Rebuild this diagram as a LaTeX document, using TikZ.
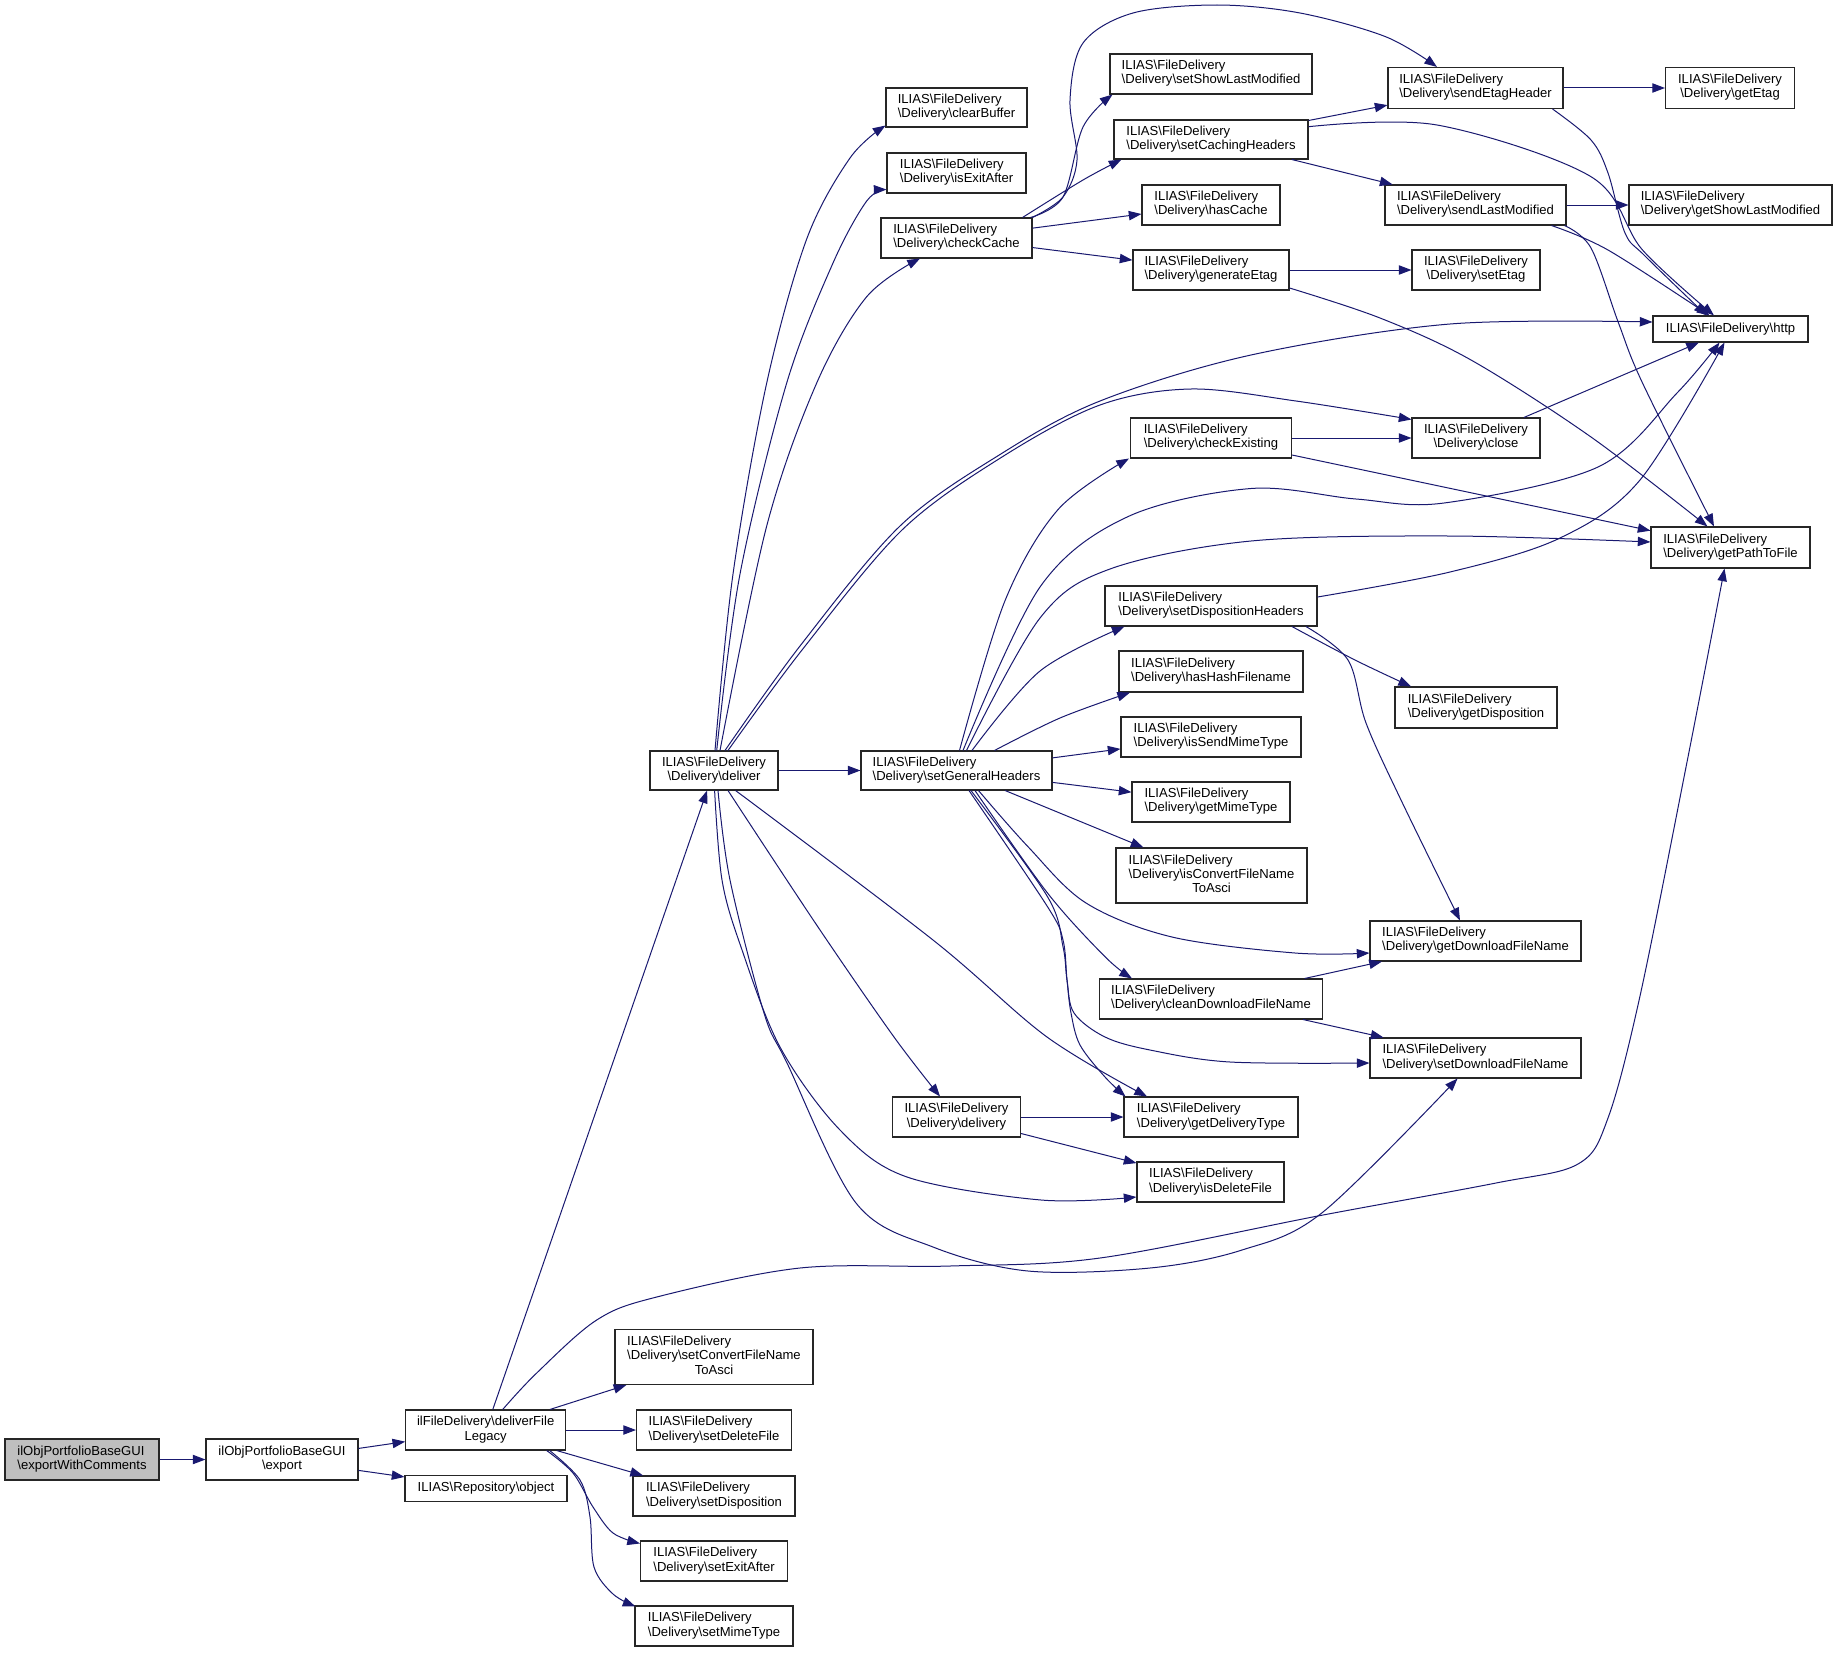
\documentclass[tikz,border=0pt]{standalone}
\usepackage{fontspec}
\setmainfont{Liberation Sans}
\usetikzlibrary{arrows.meta,calc}
\definecolor{edgec}{HTML}{191970}
\definecolor{rootfill}{HTML}{BFBFBF}
\newcommand\bs{\textbackslash}
\newcommand\lblB[2]{\begin{tabular}{@{}l@{}}#1\\\multicolumn{1}{@{}c@{}}{#2}\end{tabular}}
\newcommand\lblC[3]{\begin{tabular}{@{}l@{}}#1\\#2\\\multicolumn{1}{@{}c@{}}{#3}\end{tabular}}
\newcommand\fd[1]{\lblB{ILIAS\bs FileDelivery}{\bs Delivery\bs #1}}
\newcommand\mknode[7][]{\node[box,#1,minimum width=#5*0.75pt,minimum height=#6*0.75pt] (#2) at (#3,#4) {#7};}
\tikzset{
  box/.style={draw=black!85, line width=0.8pt, fill=white, inner sep=0pt,
    font=\fontsize{9.8pt}{10.7pt}\selectfont},
  e/.style={draw=edgec, line width=0.75pt, -{Triangle[length=9.5pt,width=7pt]}},
  sm/.style={smooth, tension=0.55}
}
\begin{document}
\begin{tikzpicture}[x=0.75pt,y=-0.75pt]
\fill[white] (0,0) rectangle (1837,1652);
\useasboundingbox (0,0) rectangle (1837,1652);
% nodes
\mknode[fill=rootfill]{ewc}{82}{1459.5}{154}{41}{\lblB{ilObjPortfolioBaseGUI}{\bs exportWithComments}}
\mknode{exp}{282}{1459.5}{152}{41}{\lblB{ilObjPortfolioBaseGUI}{\bs export}}
\mknode{dfl}{485.7}{1430}{160}{40}{\lblB{ilFileDelivery\bs deliverFile}{Legacy}}
\mknode{obj}{486}{1488.5}{162}{26}{ILIAS\bs Repository\bs object}
\mknode{scf}{714}{1357}{198}{55}{\lblC{ILIAS\bs FileDelivery}{\bs Delivery\bs setConvertFileName}{ToAsci}}
\mknode{sdf}{714}{1430}{155}{40}{\fd{setDeleteFile}}
\mknode{sdi}{714}{1496}{162}{40}{\fd{setDisposition}}
\mknode{sea}{714}{1561}{147}{40}{\fd{setExitAfter}}
\mknode{smt}{714}{1626}{158}{40}{\fd{setMimeType}}
\mknode{dlv}{714}{770.5}{128}{39}{\fd{deliver}}
\mknode{sgh}{956.5}{770.5}{191}{39}{\fd{setGeneralHeaders}}
\mknode{cb}{956.5}{107.5}{141}{39}{\fd{clearBuffer}}
\mknode{iea}{956.5}{173}{139}{40}{\fd{isExitAfter}}
\mknode{cc}{956.5}{238}{151}{40}{\fd{checkCache}}
\mknode{dly}{956.5}{1117}{128}{40}{\fd{delivery}}
\mknode{sslm}{1211}{74}{202}{40}{\fd{setShowLastModified}}
\mknode{sch}{1211}{139.5}{194}{39}{\fd{setCachingHeaders}}
\mknode{hc}{1211}{205}{138}{40}{\fd{hasCache}}
\mknode{ge}{1211}{270}{156}{40}{\fd{generateEtag}}
\mknode{ce}{1211}{438}{161}{40}{\fd{checkExisting}}
\mknode{sdh}{1211}{606}{212}{40}{\fd{setDispositionHeaders}}
\mknode{hhf}{1211}{671.5}{184}{41}{\fd{hasHashFilename}}
\mknode{ismt}{1211}{737}{180}{40}{\fd{isSendMimeType}}
\mknode{gmt}{1211}{802}{158}{40}{\fd{getMimeType}}
\mknode{icf}{1211.5}{875.5}{191}{55}{\lblC{ILIAS\bs FileDelivery}{\bs Delivery\bs isConvertFileName}{ToAsci}}
\mknode{cdfn}{1211}{999}{223}{40}{\fd{cleanDownloadFileName}}
\mknode{gdt}{1211}{1117}{174}{40}{\fd{getDeliveryType}}
\mknode{idf}{1210.5}{1182}{147}{40}{\fd{isDeleteFile}}
\mknode{seh}{1475.5}{88}{175}{41}{\fd{sendEtagHeader}}
\mknode{slm}{1475.5}{205}{181}{40}{\fd{sendLastModified}}
\mknode{setag}{1476}{270}{128}{40}{\fd{setEtag}}
\mknode{close}{1476}{438}{128}{40}{\fd{close}}
\mknode{gdisp}{1476}{707.5}{162}{41}{\fd{getDisposition}}
\mknode{gdfn}{1475.5}{941}{211}{40}{\fd{getDownloadFileName}}
\mknode{sdfn}{1475.5}{1058}{211}{40}{\fd{setDownloadFileName}}
\mknode{getag}{1730}{88}{129}{41}{\fd{getEtag}}
\mknode{gslm}{1730.5}{205}{203}{40}{\fd{getShowLastModified}}
\mknode{http}{1730.5}{329}{155}{26}{ILIAS\bs FileDelivery\bs http}
\mknode{gptf}{1730.5}{547.5}{159}{41}{\fd{getPathToFile}}
% edges: left part
\draw[e] (ewc) -- (exp);
\draw[e] (exp) -- (dfl);
\draw[e] (exp) -- (obj);
\draw[e] (dfl) -- (dlv);
\draw[e] (dfl) -- (scf);
\draw[e] (dfl) -- (sdf);
\draw[e] (dfl) -- (sdi);
\draw[e] plot[sm] coordinates {($(dfl.south)+(61,0)$) (573,1473) (593,1507) (613,1533) ($(sea.north west)+(0,3)$)};
\draw[e] plot[sm] coordinates {($(dfl.south)+(64,0)$) (580,1480) (590,1517) (594,1567) (613,1594) ($(smt.north west)+(1,1)$)};
\draw[e] plot[sm] coordinates {($(dfl.north)+(17,0)$) (536.7,1373) (596.7,1320) (656.7,1297) (800,1268) (950,1266) (1100,1258) (1323,1215) (1496,1183) (1578,1164) (1608,1118) (1640,996) (1687,762) ($(gptf.south)+(-6,0)$)};
% deliver
\draw[e] (dlv) -- (sgh);
\draw[e] plot[sm] coordinates {($(dlv.north)+(1,0)$) (733,574) (766.7,383) (806.7,239) (850,158) ($(cb.south west)+(0,-2)$)};
\draw[e] plot[sm] coordinates {($(dlv.north)+(2.7,0)$) (740,574) (786.7,383) (833,263) (866.7,201) ($(iea.south west)+(0,-4)$)};
\draw[e] plot[sm] coordinates {($(dlv.north)+(6,0)$) (766.7,526) (816.7,383) (866.7,296.7) ($(cc.south)+(-36.5,0)$)};
\draw[e] plot[sm] coordinates {($(dlv.north)+(11,0)$) (800,646) (900,526) (1000,454.5) (1100,401) (1251,355) (1450,324) ($(http.west)+(0,-7)$)};
\draw[e] plot[sm] coordinates {($(dlv.north)+(14,0)$) (802,650) (902,530) (1002,457) (1100,405) (1191,389) (1296,401) ($(close.north west)+(0,2)$)};
\draw[e] plot[sm] coordinates {($(dlv.south)+(14,0)$) (818,927) (894,1037) ($(dly.north)+(-16.5,0)$)};
\draw[e] plot[sm] coordinates {($(dlv.south)+(21.6,0)$) (933,940) (1047,1037) ($(gdt.north)+(-64,0)$)};
\draw[e] plot[sm] coordinates {($(dlv.south)+(0.6,0)$) (722,880) (741,947) (780,1047) (840,1130) (907,1177) (1041,1200) ($(idf.west)+(0,15)$)};
\draw[e] plot[sm] coordinates {($(dlv.south)+(4,0)$) (730,880) (764,1013) (787,1063) (856,1203) (933,1247) (1028,1271) (1150,1268) (1242,1250) (1323,1212) ($(sdfn.south)+(-18,0)$)};
% setGeneralHeaders
\draw[e] plot[sm] coordinates {($(sgh.north)+(3,0)$) (1005,600.7) (1058,509.6) ($(ce.south west)+(-1,0)$)};
\draw[e] plot[sm] coordinates {($(sgh.north)+(6.5,0)$) (1040,587) (1128,516.6) (1251,488.5) (1356,499) (1444,503) (1598,467) (1677,393) ($(http.south)+(-11,0)$)};
\draw[e] plot[sm] coordinates {($(sgh.north)+(10,0)$) (1040,618) (1110,569) (1251,541) (1450,536) ($(gptf.west)+(0,-5.5)$)};
\draw[e] plot[sm] coordinates {($(sgh.north)+(15.5,0)$) (1040,671) ($(sdh.south)+(-86.5,0)$)};
\draw[e] plot[sm] coordinates {($(sgh.north)+(38,0)$) (1060,718) ($(hhf.south)+(-81,0)$)};
\draw[e] (sgh) -- (ismt);
\draw[e] (sgh) -- (gmt);
\draw[e] (sgh) -- (icf);
\draw[e] plot[sm] coordinates {($(sgh.south)+(12.5,0)$) (1047.5,906.7) (1063,940) (1067,980) (1071,1013) (1080,1045) (1105,1077) ($(gdt.north west)+(2,0)$)};
\draw[e] plot[sm] coordinates {($(sgh.south)+(14.5,0)$) (1047.5,896.7) (1063,946.7) (1067,980) (1074,1013) (1105,1037) (1150,1050) (1230,1062) ($(sdfn.west)+(0,5)$)};
\draw[e] plot[sm] coordinates {($(sgh.south)+(18.5,0)$) (1047.5,893) (1105,956.7) ($(cdfn.north)+(-79,0)$)};
\draw[e] plot[sm] coordinates {($(sgh.south)+(22,0)$) (1028,846.7) (1086,903) (1172,937) (1295,953) ($(gdfn.west)+(0,12)$)};
% checkCache
\draw[e] plot[sm] coordinates {($(cc.north east)+(-2,0)$) (1063,197) (1083,127) ($(sslm.south west)+(3,0)$)};
\draw[e] plot[sm] coordinates {($(cc.north east)+(-10,0)$) (1083,180) ($(sch.south west)+(8,0)$)};
\draw[e] plot[sm] coordinates {(cc.north east) (1063,197) (1077,160) (1070,100) (1083,43) (1133,13) (1217,5) (1300,13) (1385.6,36.7) ($(seh.north)+(-38.5,0)$)};
\draw[e] (cc) -- (hc);
\draw[e] (cc) -- (ge);
% generateEtag
\draw[e] (ge) -- (setag);
\draw[e] plot[sm] coordinates {($(ge.east)+(0,18)$) (1380,318) (1471,360) (1591,437) ($(gptf.north)+(-23,0)$)};
% setCachingHeaders
\draw[e] (sch) -- (seh);
\draw[e] (sch) -- (slm);
\draw[e] plot[sm] coordinates {($(sch.east)+(0,-12.8)$) (1437,125) (1591,176.7) (1642.5,250) ($(http.north)+(-16.5,0)$)};
% sendEtagHeader
\draw[e] (seh) -- (getag);
\draw[e] plot[sm] coordinates {($(seh.south east)+(-11,0)$) (1591,140) (1608,173) (1625,233) (1645,256) ($(http.north)+(-24,0)$)};
% sendLastModified
\draw[e] (slm) -- (gslm);
\draw[e] plot[sm] coordinates {($(slm.south)+(76,0)$) (1608,250) ($(http.north)+(-21,0)$)};
\draw[e] plot[sm] coordinates {($(slm.south)+(89,0)$) (1591,248) (1618.5,323) (1642.5,383) ($(gptf.north)+(-16.5,0)$)};
% others
\draw[e] (close) -- (http);
\draw[e] (ce) -- (close);
\draw[e] (ce) -- (gptf);
\draw[e] plot[sm] coordinates {($(sdh.east)+(0,-9)$) (1450,572) (1560,538) (1640,480) ($(http.south)+(-6,0)$)};
\draw[e] plot[sm] coordinates {($(sdh.south)+(81,0)$) (1355,660) ($(gdisp.north)+(-65,0)$)};
\draw[e] plot[sm] coordinates {($(sdh.south)+(95,0)$) (1348,660) (1366,723) (1401,800) ($(gdfn.north)+(-15.5,0)$)};
\draw[e] (cdfn) -- (gdfn);
\draw[e] (cdfn) -- (sdfn);
\draw[e] (dly) -- (gdt);
\draw[e] (dly) -- (idf);
\end{tikzpicture}
\end{document}
